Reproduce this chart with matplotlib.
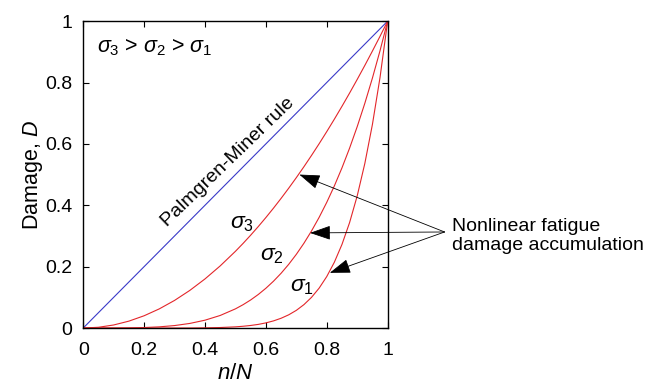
import numpy as np
import matplotlib
matplotlib.use('Agg')
import matplotlib.pyplot as plt

plt.rcParams['font.family'] = ['Liberation Sans', 'DejaVu Sans']
plt.rcParams['mathtext.fontset'] = 'custom'
plt.rcParams['mathtext.rm'] = 'Liberation Sans'
plt.rcParams['mathtext.it'] = 'Liberation Sans:italic'

# cycle ratio n/N and damage D
ratio = [0, 0.05, 0.1, 0.15, 0.2, 0.25, 0.3, 0.35, 0.4, 0.45, 0.5,
         0.525, 0.55, 0.575, 0.6, 0.625, 0.65, 0.675, 0.7, 0.725, 0.75,
         0.775, 0.8, 0.825, 0.85, 0.875, 0.9, 0.925, 0.95, 0.975, 1.0]
d_sigma3 = [0, 0.0025, 0.01, 0.0225, 0.04, 0.0625, 0.09, 0.1225, 0.16, 0.2025, 0.25,
            0.2756, 0.3025, 0.3306, 0.36, 0.3906, 0.4225, 0.4556, 0.49, 0.5256, 0.5625,
            0.6006, 0.64, 0.6806, 0.7225, 0.7656, 0.81, 0.8556, 0.9025, 0.9506, 1.0]
d_sigma2 = [0, 0.0, 0.0001, 0.0005, 0.0016, 0.0039, 0.0081, 0.015, 0.0256, 0.041, 0.0625,
            0.076, 0.0915, 0.1093, 0.1296, 0.1526, 0.1785, 0.2076, 0.2401, 0.2763, 0.3164,
            0.3607, 0.4096, 0.4632, 0.522, 0.5862, 0.6561, 0.7321, 0.8145, 0.9037, 1.0]
d_sigma1 = [0, 0, 0, 0, 0.0, 0.0, 0.0001, 0.0002, 0.0007, 0.0017, 0.0039,
            0.0058, 0.0084, 0.0119, 0.0168, 0.0233, 0.0319, 0.0431, 0.0576, 0.0763, 0.1001,
            0.1301, 0.1678, 0.2146, 0.2725, 0.3436, 0.4305, 0.536, 0.6634, 0.8167, 1.0]
miner_x = [0, 1]
miner_d = [0, 1]

# arrow tips on the curves (sigma3, sigma2, sigma1)
arrow_tips = [(0.71, 0.50), (0.745, 0.31), (0.81, 0.18)]

fig = plt.figure(figsize=(6.45, 3.91), dpi=100)
ax = fig.add_axes([0.129, 0.161, 0.472, 0.785])

ax.plot(miner_x, miner_d, color='#3a3ac8', lw=0.8)
for d in (d_sigma3, d_sigma2, d_sigma1):
    ax.plot(ratio, d, color='#e3262a', lw=0.8)

ax.set_xlim(0, 1)
ax.set_ylim(0, 1)
ticks = [0, 0.2, 0.4, 0.6, 0.8, 1]
ax.set_xticks(ticks)
ax.set_yticks(ticks)
ax.set_xticklabels(['0', '0.2', '0.4', '0.6', '0.8', '1'])
ax.set_yticklabels(['0', '0.2', '0.4', '0.6', '0.8', '1'])
ax.tick_params(direction='in', top=True, right=True, length=4, width=0.8,
               labelsize=14)
ax.tick_params(axis='x', pad=10)
ax.tick_params(axis='y', pad=8)
for s in ax.spines.values():
    s.set_linewidth(1.0)

ax.set_xlabel(r'$\it{n/N}$', fontsize=16, labelpad=3)
ax.set_ylabel(r'Damage, $\it{D}$', fontsize=15.5, labelpad=0)

ax.text(0.046, 0.915, r'$\sigma_3$ > $\sigma_2$ > $\sigma_1$', fontsize=15.5,
        ha='left', va='center')
ax.text(0.475, 0.54, 'Palmgren-Miner rule', fontsize=14, rotation=44,
        rotation_mode='anchor', ha='center', va='center')
ax.text(0.52, 0.345, r'$\sigma_3$', fontsize=16.5, ha='center', va='center')
ax.text(0.62, 0.24, r'$\sigma_2$', fontsize=16.5, ha='center', va='center')
ax.text(0.72, 0.14, r'$\sigma_1$', fontsize=16.5, ha='center', va='center')

src = (1.187, 0.313)
for tip in arrow_tips:
    ax.annotate('', xy=tip, xytext=src, annotation_clip=False,
                arrowprops=dict(arrowstyle='-|>,head_length=1.3,head_width=0.45',
                                color='black', lw=0.6, shrinkA=0, shrinkB=0))
ax.text(1.21, 0.30, 'Nonlinear fatigue\ndamage accumulation', fontsize=14,
        ha='left', va='center', linespacing=1.15)

fig.savefig('out.png', dpi=100)
